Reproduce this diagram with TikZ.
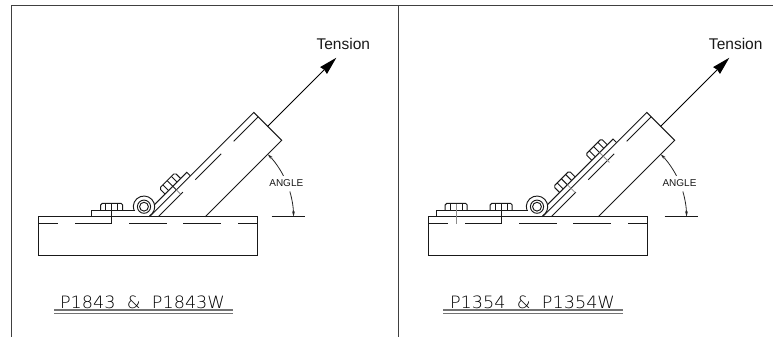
\documentclass[tikz,border=0pt]{standalone}
\usepackage{fontspec}
\setmainfont{Liberation Sans}
\newfontfamily\cadfont{DejaVu Sans ExtraLight}
\usetikzlibrary{arrows.meta}
\tikzset{
  obj/.style={draw=black!90,line width=0.95pt,line join=miter},
  frameline/.style={draw=black!75,line width=1.1pt},
  faint/.style={draw=black!45,line width=0.8pt},
  under/.style={draw=black!55,line width=1.4pt},
  tensionarrow/.style={draw=black,line width=0.9pt,-{Stealth[length=18pt,width=9.5pt,inset=1pt]}},
  dimline/.style={draw=black!85,line width=0.8pt},
  dimtip/.style={{Stealth[length=5.5pt,width=2.8pt]}-},
  lbl/.style={inner sep=0pt,text=black!90,font=\fontsize{15.5}{17}\selectfont},
  anglelbl/.style={inner sep=0pt,text=black!90,font=\fontsize{10}{12}\selectfont},
  caplbl/.style={inner sep=0pt,text=black},
  slant/.style={x={(0.7071pt,0.7071pt)},y={(-0.7071pt,0.7071pt)}},
  flat/.style={x={(1pt,0pt)},y={(0pt,1pt)}}
}
% hex nut: centre along the base line, base level, height
\newcommand{\hexnut}[3]{%
  \draw[obj] ({#1-11},#2) -- ({#1-11},{#2+#3-1.6}) -- ({#1-9.4},{#2+#3}) -- ({#1+9.4},{#2+#3}) -- ({#1+11},{#2+#3-1.6}) -- ({#1+11},#2);
  \draw[obj] ({#1-6},#2) -- ({#1-6},{#2+#3});
  \draw[obj] ({#1+6},#2) -- ({#1+6},{#2+#3});
}
\newcommand{\slabparts}{%
  \draw[obj] (38.3,216.7) rectangle (257.3,255.8);
  \draw[obj] (38.3,223.3) -- (57.7,223.3);
  \draw[obj] (75,223.3) -- (111.7,223.3);
  \draw[obj] (129.3,223.3) -- (166.7,223.3);
  \draw[obj] (183,223.3) -- (221,223.3);
  \draw[obj] (238,223.3) -- (257.3,223.3);
}
\newcommand{\tubeparts}{%
  \coordinate (hc) at (144,206.7);
  \draw[obj] (hc) ++(200:10.7pt) arc[start angle=200,end angle=-58,radius=10.7pt] -- (149.5,216.7);
  \draw[obj] (hc) circle[radius=6.6pt];
  \draw[obj] (hc) circle[radius=4.4pt];
  \begin{scope}[shift={(149.5,216.7)},slant]
    \draw[obj] (0,0) -- (147.5,0) -- (147.5,-39.4) -- (39.3,-39.4);
    \draw[obj] (6.2,-6.2) -- (41,-6.2);
    \draw[obj] (58.5,-6.2) -- (95.2,-6.2);
    \draw[obj] (112.8,-6.2) -- (147.5,-6.2);
    \coordinate (ts) at (147.5,-19.7);
    \coordinate (te) at (244.5,-19.7);
  \end{scope}
  \draw[tensionarrow] (ts) -- (te);
  \coordinate (ac) at (205,216.7);
  \draw[dimline,dimtip] (ac) ++(45:88.5pt) arc[start angle=45,end angle=27.5,radius=88.5pt];
  \draw[dimline,dimtip] (ac) ++(0:88.5pt) arc[start angle=0,end angle=16.5,radius=88.5pt];
  \draw[obj] (271.7,216.7) -- (304.5,216.7);
}
\begin{document}
\begin{tikzpicture}[x=1pt,y=-1pt]
\useasboundingbox (0,0) rectangle (773,337);
\fill[white] (0,0) rectangle (773,337);
% frame
\coordinate (fa) at (11.7,337);
\coordinate (fb) at (11.7,5.7);
\coordinate (fc) at (773,5.7);
\coordinate (fd) at (398.4,5.7);
\coordinate (fe) at (398.4,337);
\draw[frameline] (fa) -- (fb) -- (fc);
\draw[frameline] (fd) -- (fe);

% LEFT PANEL
\slabparts
\tubeparts
\draw[obj] (135,210.3) -- (91.7,210.3) -- (91.7,216.7);
\draw[obj] (111.7,203.3) -- (111.7,223.3);
\begin{scope}[shift={(0,216.7)},flat]
  \hexnut{111.7}{6.4}{7}
\end{scope}
\begin{scope}[shift={(149.5,216.7)},slant]
  \draw[obj] (12.2,5) -- (57.8,5) -- (57.8,0);
  \hexnut{38}{5}{8}
  \draw[obj] (38,13) -- (38,0);
  \draw[faint] (38,0) -- (38,-6.2);
\end{scope}
\node[lbl] (tl) at (343.3,44.3) {Tension};
\node[anglelbl] (al) at (286.3,183.3) {ANGLE};
\node[caplbl] (cl) at (142.5,302.2) {\resizebox{165pt}{12.6pt}{\cadfont P1843\ \ \&\ \ P1843W}};
\draw[under] (54,310) -- (233.3,310);
\draw[under] (54,313.7) -- (233.3,313.7);

% RIGHT PANEL
\begin{scope}[xshift=390pt]
  \slabparts
\end{scope}
\begin{scope}[xshift=393pt]
  \tubeparts
\end{scope}
\draw[obj] (528,210.3) -- (436,210.3) -- (436,216.7);
\draw[obj] (501.2,203.3) -- (501.2,223.3);
\draw[faint] (456.2,203.3) -- (456.2,223.5);
\begin{scope}[shift={(0,216.7)},flat]
  \hexnut{456.2}{6.4}{7}
  \hexnut{501.2}{6.4}{7}
\end{scope}
\begin{scope}[shift={(542.5,216.7)},slant]
  \draw[obj] (12.2,5) -- (104.8,5) -- (104.8,0);
  \hexnut{40.2}{5}{8.5}
  \hexnut{85.7}{5}{8.5}
  \draw[obj] (40.2,13.5) -- (40.2,5);
  \draw[obj] (85.7,13.5) -- (85.7,5);
  \draw[faint] (40.2,5) -- (40.2,-6.2);
  \draw[faint] (85.7,5) -- (85.7,-9);
\end{scope}
\node[lbl] (tr) at (735.7,44.3) {Tension};
\node[anglelbl] (ar) at (679.5,183.3) {ANGLE};
\node[caplbl] (cr) at (532.5,302.2) {\resizebox{165pt}{12.6pt}{\cadfont P1354\ \ \&\ \ P1354W}};
\draw[under] (443.3,310) -- (623.3,310);
\draw[under] (443.3,313.7) -- (623.3,313.7);
\end{tikzpicture}
\end{document}
